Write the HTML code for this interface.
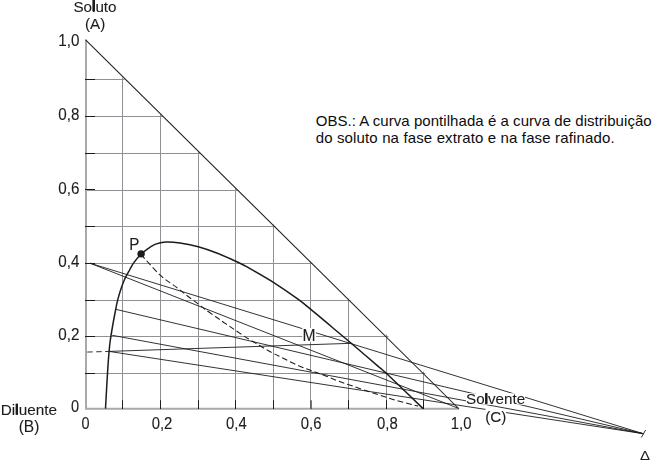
<!DOCTYPE html>
<html lang="pt"><head><meta charset="utf-8"><title>Diagrama ternário</title>
<style>html,body{margin:0;padding:0;background:#fff}
#fig{position:relative;width:654px;height:464px;overflow:hidden;background:#fff}
svg{display:block;position:absolute;left:0;top:0}
.obs{position:absolute;left:315.7px;margin:0;white-space:nowrap;font-family:'Liberation Sans',Arial,sans-serif;font-size:15px;line-height:17px;color:#0c0c10}
#o1{top:111.5px;letter-spacing:0.05px}
#o2{top:129.3px;letter-spacing:0.14px}</style></head>
<body>
<div id="fig">
<p class="obs" id="o1">OBS.: A curva pontilhada é a curva de distribuição</p>
<p class="obs" id="o2">do soluto na fase extrato e na fase rafinado.</p>
<svg width="654" height="464" viewBox="0 0 654 464" style="will-change:transform;transform:translateZ(0)">
<g stroke="#8f9196" stroke-width="1" fill="none">
<line x1="122.5" y1="408.75" x2="122.5" y2="77.5"/>
<line x1="86.0" y1="373.5" x2="425.5" y2="373.5"/>
<line x1="160.5" y1="408.75" x2="160.5" y2="114.5"/>
<line x1="86.0" y1="336.5" x2="388.5" y2="336.5"/>
<line x1="198.5" y1="408.75" x2="198.5" y2="151.5"/>
<line x1="86.0" y1="300.5" x2="350.5" y2="300.5"/>
<line x1="235.5" y1="408.75" x2="235.5" y2="188.5"/>
<line x1="86.0" y1="263.5" x2="312.5" y2="263.5"/>
<line x1="273.5" y1="408.75" x2="273.5" y2="224.5"/>
<line x1="86.0" y1="226.5" x2="275.5" y2="226.5"/>
<line x1="310.5" y1="408.75" x2="310.5" y2="261.5"/>
<line x1="86.0" y1="190.5" x2="237.5" y2="190.5"/>
<line x1="348.5" y1="408.75" x2="348.5" y2="298.5"/>
<line x1="86.0" y1="153.5" x2="200.5" y2="153.5"/>
<line x1="386.5" y1="408.75" x2="386.5" y2="334.5"/>
<line x1="86.0" y1="116.5" x2="162.5" y2="116.5"/>
<line x1="423.5" y1="408.75" x2="423.5" y2="371.5"/>
<line x1="86.0" y1="79.5" x2="124.5" y2="79.5"/>
</g>
<path d="M86.0 39.5 L86.0 408.75 L459.2 408.75" stroke="#a9a9a9" stroke-width="2" fill="none"/>
<g stroke="#1c1c1c" stroke-width="1">
<line x1="85" y1="373.5" x2="95" y2="373.5"/>
<line x1="122.5" y1="409.05" x2="122.5" y2="400.25"/>
<line x1="85" y1="336.5" x2="95" y2="336.5"/>
<line x1="160.5" y1="409.05" x2="160.5" y2="400.25"/>
<line x1="85" y1="300.5" x2="95" y2="300.5"/>
<line x1="198.5" y1="409.05" x2="198.5" y2="400.25"/>
<line x1="85" y1="263.5" x2="95" y2="263.5"/>
<line x1="235.5" y1="409.05" x2="235.5" y2="400.25"/>
<line x1="85" y1="226.5" x2="95" y2="226.5"/>
<line x1="273.5" y1="409.05" x2="273.5" y2="400.25"/>
<line x1="85" y1="189.5" x2="95" y2="189.5"/>
<line x1="311.1" y1="409.05" x2="311.1" y2="400.25"/>
<line x1="85" y1="153.5" x2="95" y2="153.5"/>
<line x1="348.5" y1="409.05" x2="348.5" y2="400.25"/>
<line x1="85" y1="116.5" x2="95" y2="116.5"/>
<line x1="386.5" y1="409.05" x2="386.5" y2="400.25"/>
<line x1="85" y1="79.5" x2="95" y2="79.5"/>
<line x1="423.5" y1="409.05" x2="423.5" y2="400.25"/>
</g>
<line x1="85.6" y1="39.8" x2="458.6" y2="408.5" stroke="#1c1c1c" stroke-width="1.05"/>
<path d="M105.5 408.6 C105.8 402.7 106.9 382.9 107.5 373.4 C108.1 363.9 108.6 356.8 109.1 351.4 C109.5 346.0 109.6 345.2 110.2 341.0 C110.8 336.8 111.7 331.3 112.6 326.0 C113.5 320.7 114.9 313.6 115.7 309.3 C116.5 305.0 116.8 303.6 117.6 300.4 C118.4 297.2 119.5 293.4 120.6 290.0 C121.7 286.6 122.8 283.3 124.3 280.0 C125.8 276.7 128.0 272.9 129.6 270.0 C131.2 267.1 131.8 265.5 133.7 262.9 C135.6 260.3 138.7 256.5 140.9 254.3 C143.1 252.1 144.3 251.2 146.7 249.6 C149.0 247.9 151.8 245.7 155.0 244.4 C158.2 243.1 161.6 242.2 165.8 242.0 C170.0 241.8 174.6 242.2 180.0 243.0 C185.4 243.8 192.2 245.0 198.3 246.7 C204.4 248.4 209.9 250.3 216.7 253.0 C223.5 255.7 233.4 260.1 239.0 262.7 C244.6 265.3 244.2 265.3 250.0 268.6 C255.8 271.9 265.9 277.6 273.8 282.6 C281.7 287.7 291.5 294.5 297.6 298.9 C303.7 303.3 304.4 304.1 310.2 308.9 C316.0 313.7 326.0 322.0 332.7 327.7 C339.4 333.4 345.2 338.2 350.6 342.8 C356.0 347.4 360.8 351.4 365.3 355.3 C369.9 359.2 374.4 363.1 377.9 366.1 C381.4 369.1 378.8 366.2 386.3 373.3 C393.8 380.4 417.0 402.7 423.1 408.6" stroke="#1c1c1c" stroke-width="1.5" fill="none"/>
<path d="M140.9 254.3 C144.1 257.8 154.3 269.7 160.2 275.2 C166.1 280.7 171.8 283.7 176.3 287.2 C180.9 290.7 183.8 293.1 187.5 296.0 C191.2 298.9 195.9 302.2 198.8 304.4 C201.7 306.6 202.2 307.1 205.1 309.3 C208.0 311.5 213.1 315.0 216.4 317.3 C219.8 319.6 222.1 321.3 225.2 323.4 C228.3 325.5 231.2 327.4 235.0 330.0 C238.8 332.6 244.1 336.2 248.3 338.8 C252.5 341.4 256.1 343.5 260.0 345.8 C263.9 348.1 268.1 350.6 271.7 352.5 C275.3 354.4 278.1 355.7 281.7 357.5 C285.3 359.3 289.4 361.5 293.3 363.3 C297.2 365.1 301.4 366.9 305.0 368.3 C308.6 369.8 311.8 370.8 315.0 372.0 C318.2 373.2 319.8 373.7 324.0 375.3 C328.2 376.9 333.7 379.4 340.4 381.8 C347.1 384.2 354.9 386.9 364.0 389.9 C373.1 392.9 386.0 397.3 395.0 400.0 C404.0 402.7 414.2 405.0 418.0 406.0" stroke="#1c1c1c" stroke-width="1.05" fill="none" stroke-dasharray="5.8 3"/>
<g stroke="#1c1c1c" stroke-width="0.9" fill="none">
<line x1="90.0" y1="263.2" x2="643.3" y2="433.7"/>
<line x1="115.7" y1="309.3" x2="643.3" y2="433.7"/>
<line x1="112.2" y1="335.3" x2="643.3" y2="433.7"/>
<line x1="109.1" y1="351.4" x2="643.3" y2="433.7"/>
<line x1="90.0" y1="263.2" x2="458.6" y2="408.4"/>
<line x1="109.1" y1="351.4" x2="351.6" y2="343.3"/>
<line x1="86.2" y1="352.1" x2="109.1" y2="351.4" stroke-dasharray="5.5 3.5" stroke-dashoffset="-1"/>
<line x1="641.3" y1="437.5" x2="645.6" y2="430"/>
</g>
<circle cx="141.1" cy="253.9" r="3.7" fill="#1c1c1c"/>
<rect x="302.3" y="328" width="13.6" height="13.5" fill="#fff"/>
<rect x="466" y="393.3" width="59" height="11.3" fill="#fff"/>
<rect x="485.3" y="409.0" width="20.8" height="16" fill="#fff"/>
<g font-family="'Liberation Sans',Arial,sans-serif" font-size="15.2" fill="#1c1c1c" stroke="#1c1c1c" stroke-width="0.1">
<text transform="translate(95 11.5) scale(1 1.0)" text-anchor="middle" >Soluto</text>
<text transform="translate(95.1 28.8) scale(1 1.0)" text-anchor="middle" >(A)</text>
<text transform="translate(79.4 46.2) scale(1 1.03)" text-anchor="end" >1,0</text>
<text transform="translate(79.4 119.8) scale(1 1.03)" text-anchor="end" >0,8</text>
<text transform="translate(79.4 193.8) scale(1 1.03)" text-anchor="end" >0,6</text>
<text transform="translate(79.4 266.8) scale(1 1.03)" text-anchor="end" >0,4</text>
<text transform="translate(79.4 339.8) scale(1 1.03)" text-anchor="end" >0,2</text>
<text transform="translate(79.0 412.3) scale(0.96 1.04)" text-anchor="end" >0</text>
<text transform="translate(85.4 428.7) scale(0.95 1.03)" text-anchor="middle" >0</text>
<text transform="translate(162.0 428.7) scale(0.98 1.03)" text-anchor="middle" >0,2</text>
<text transform="translate(236.4 428.7) scale(0.98 1.03)" text-anchor="middle" >0,4</text>
<text transform="translate(311.1 428.7) scale(0.98 1.03)" text-anchor="middle" >0,6</text>
<text transform="translate(387.4 428.7) scale(0.98 1.03)" text-anchor="middle" >0,8</text>
<text transform="translate(461.1 428.7) scale(0.98 1.03)" text-anchor="middle" >1,0</text>
<text transform="translate(28.9 414.5) scale(1.01 1.0)" text-anchor="middle" >Diluente</text>
<text transform="translate(29.0 431.8) scale(1.02 1.06)" text-anchor="middle" >(B)</text>
<text transform="translate(495.6 404) scale(1 1.0)" text-anchor="middle" >Solvente</text>
<text transform="translate(495.8 422.3) scale(1 1.0)" text-anchor="middle" >(C)</text>
<text transform="translate(309.0 341.0) scale(1.03 1.07)" text-anchor="middle" >M</text>
<text transform="translate(134.2 250.1) scale(1 1.08)" text-anchor="middle" >P</text>
</g>
<g fill="#1c1c1c"><rect x="92.4" y="0" width="2.6" height="11.3"/><rect x="15.6" y="403.6" width="2.4" height="11"/><rect x="485.1" y="393.2" width="2.3" height="10.8"/></g>
<text x="645" y="460.4" text-anchor="middle" font-family="'Liberation Sans',Arial,sans-serif" font-size="12.8" fill="#1c1c1c" transform="translate(645 0) scale(1.17 1) translate(-645 0)">Δ</text>
</svg>
</div>
</body></html>
